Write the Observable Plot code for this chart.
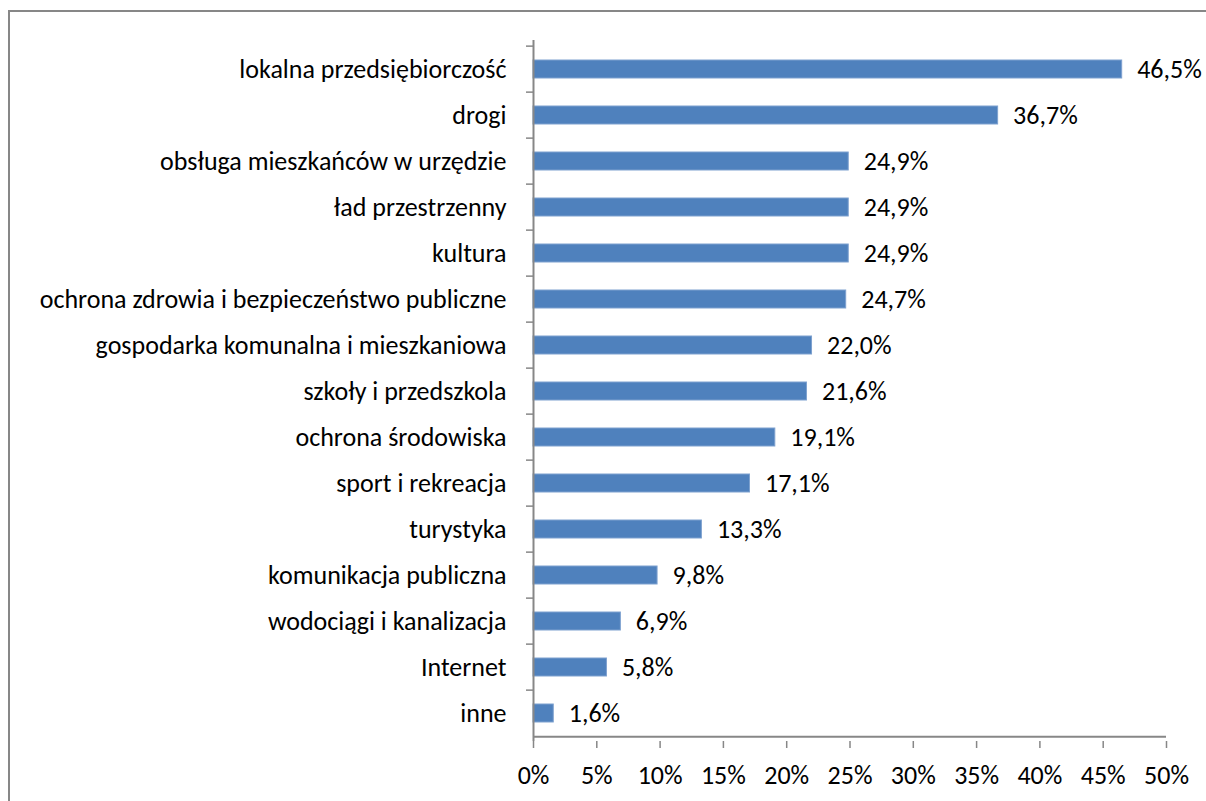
<!DOCTYPE html>
<html>
<head>
<meta charset="utf-8">
<script src="https://cdn.jsdelivr.net/npm/d3@7"></script>
<script src="https://cdn.jsdelivr.net/npm/@observablehq/plot@0.6"></script>
<style>
  html, body { margin: 0; padding: 0; background: #fff; overflow: hidden; }
  #wrap { position: relative; width: 1206px; height: 801px; }
  #border { position: absolute; left: 8px; top: 10px; width: 1300px; height: 900px;
            border-left: 2px solid #878787; border-top: 2px solid #878787; box-sizing: border-box; }
  #chart { position: absolute; left: 0; top: 0; }
</style>
</head>
<body>
<div id="wrap">
  <div id="border"></div>
  <div id="chart"></div>
</div>
<script>
const categories = [
  "lokalna przedsiębiorczość",
  "drogi",
  "obsługa mieszkańców w urzędzie",
  "ład przestrzenny",
  "kultura",
  "ochrona zdrowia i bezpieczeństwo publiczne",
  "gospodarka komunalna i mieszkaniowa",
  "szkoły i przedszkola",
  "ochrona środowiska",
  "sport i rekreacja",
  "turystyka",
  "komunikacja publiczna",
  "wodociągi i kanalizacja",
  "Internet",
  "inne"
];
const values = [46.5, 36.7, 24.9, 24.9, 24.9, 24.7, 22.0, 21.6, 19.1, 17.1, 13.3, 9.8, 6.9, 5.8, 1.6];
const xTicks = [0, 5, 10, 15, 20, 25, 30, 35, 40, 45, 50];

const data = categories.map((c, i) => ({category: c, value: values[i]}));
const fmt = v => v.toFixed(1).replace(".", ",") + "%";

const W = 1206, H = 801, mt = 40, mb = 60, ml = 533, mr = 40;
const step = (H - mt - mb) / categories.length;
const font = "Carlito, 'Open Sans', sans-serif";
const axisColor = "#878787";
const fs = 26;

const chart = Plot.plot({
  width: W,
  height: H,
  marginTop: mt,
  marginBottom: mb,
  marginLeft: ml,
  marginRight: mr,
  style: {fontFamily: font, fontSize: fs + "px", color: "#000", background: "transparent"},
  x: {domain: [0, 50], ticks: xTicks},
  y: {domain: categories, paddingInner: 0.615, paddingOuter: 0.3075, align: 0.5},
  marks: [
    Plot.barX(data, {x: "value", y: "category", fill: "#4F81BD", stroke: "#7EA1CF", strokeWidth: 1}),
    Plot.text(data, {x: "value", y: "category", text: d => fmt(d.value), textAnchor: "start", dx: 15,
      fontSize: fs, fill: "#000"}),
    Plot.axisY({tickSize: 0, tickPadding: 27, fontSize: fs, fill: "#000", label: null}),
    Plot.axisY({tickSize: 7, text: null, dy: -step / 2, stroke: axisColor, strokeWidth: 1.5, label: null}),
    Plot.ruleX([0], {stroke: axisColor, strokeWidth: 2}),
    Plot.ruleY([categories[categories.length - 1]], {x1: 0, x2: 50, dy: step / 2, stroke: axisColor, strokeWidth: 2}),
    Plot.axisX({ticks: xTicks, tickSize: 7, tickPadding: 17, tickFormat: d => d + "%", fontSize: fs,
      stroke: axisColor, strokeWidth: 1.5, fill: "#000", label: null})
  ]
});
document.getElementById("chart").appendChild(chart);
</script>
</body>
</html>
